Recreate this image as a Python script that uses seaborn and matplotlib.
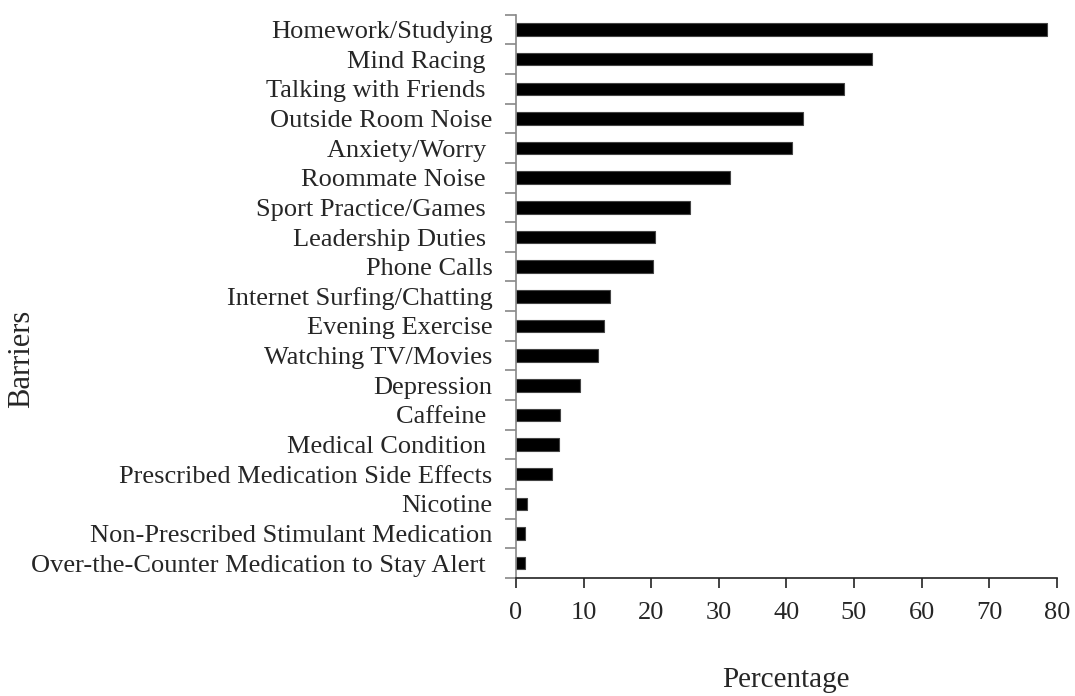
import numpy as np
import pandas as pd
import seaborn as sns
import matplotlib.pyplot as plt
from matplotlib.ticker import FixedLocator

barriers = ["Homework/Studying", "Mind Racing ", "Talking with Friends ",
            "Outside Room Noise", "Anxiety/Worry ", "Roommate Noise ",
            "Sport Practice/Games ", "Leadership Duties ", "Phone Calls",
            "Internet Surfing/Chatting", "Evening Exercise",
            "Watching TV/Movies", "Depression", "Caffeine ",
            "Medical Condition ", "Prescribed Medication Side Effects",
            "Nicotine", "Non-Prescribed Stimulant Medication",
            "Over-the-Counter Medication to Stay Alert "]
percentage = [78.6, 52.6, 48.6, 42.4, 40.9, 31.7, 25.8, 20.6, 20.3,
              13.9, 13.0, 12.2, 9.4, 6.5, 6.3, 5.4, 1.7, 1.4, 1.4]
xticks = [0, 10, 20, 30, 40, 50, 60, 70, 80]

df = pd.DataFrame({"Barriers": barriers, "Percentage": percentage})

sns.set_style("white")
plt.rcParams['font.family'] = ['Liberation Serif', 'DejaVu Serif']

fig = plt.figure(figsize=(10.75, 6.96), dpi=100)
ax = fig.add_axes([0.48, 0.1695, 0.503, 0.8095])

sns.barplot(data=df, x="Percentage", y="Barriers", color="black",
            edgecolor="#444444", linewidth=0.8, width=0.42, ax=ax)

ax.set_xlim(0, 80)
ax.set_ylim(len(barriers) - 0.5, -0.5)
ax.set_xticks(xticks)
ax.set_xlabel("")
ax.set_ylabel("")

for s in ["top", "right"]:
    ax.spines[s].set_visible(False)
ax.spines["left"].set_color("#888888")
ax.spines["left"].set_linewidth(1.2)
ax.spines["bottom"].set_color("#222222")
ax.spines["bottom"].set_linewidth(1.2)

ax.tick_params(axis="y", which="major", length=0, pad=17, labelsize=19)
ax.yaxis.set_minor_locator(FixedLocator(np.arange(-0.5, len(barriers), 1)))
ax.tick_params(axis="y", which="minor", left=True, length=8, width=1.2,
               color="#888888", direction="out")
ax.tick_params(axis="x", which="major", bottom=True, length=7, width=1.2,
               color="#222222", direction="out", pad=10, labelsize=19)

fig.text(22 / 1075, 1 - 359 / 696, "Barriers", rotation=90, ha="center",
         va="center", fontsize=22)
fig.text(786 / 1075, 1 - 680 / 696, "Percentage", ha="center",
         va="center", fontsize=21)

fig.savefig("out.png", dpi=100)
